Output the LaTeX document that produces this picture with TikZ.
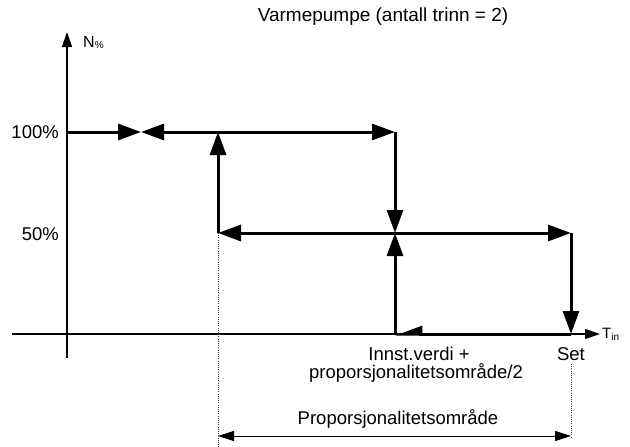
\documentclass[tikz,border=0pt]{standalone}
\usepackage{fontspec}
\setmainfont{Liberation Sans}
\usetikzlibrary{arrows.meta}
\begin{document}
\begin{tikzpicture}[x=1pt,y=-1pt,
  axisline/.style={line width=1.2pt,-{Triangle[length=15pt,width=10pt]}},
  heavy/.style={line width=3pt},
  tipend/.style={-{Triangle[length=23pt,width=16pt]}},
  tipboth/.style={{Triangle[length=23pt,width=16pt]}-{Triangle[length=23pt,width=16pt]}},
  harp/.style={-{Triangle[length=23pt,width=16pt,right]}},
  guide/.style={line width=0.8pt,draw=black!75,dash pattern=on 1pt off 1.2pt},
  dimline/.style={line width=1pt,{Triangle[length=16pt,width=10pt]}-{Triangle[length=16pt,width=10pt]}},
  lbl/.style={inner sep=0pt,font=\fontsize{18.5}{22}\selectfont},
]
\useasboundingbox (0,0) rectangle (630,447);
% coordinates
\coordinate (ya0) at (67,358);
\coordinate (ya1) at (67,32);
\coordinate (xa0) at (12,334);
\coordinate (xa1) at (600,334);
\coordinate (a) at (67,132);
\coordinate (b) at (141,132);
\coordinate (c) at (395,132);
\coordinate (d) at (218,132);
\coordinate (e) at (218,233);
\coordinate (f) at (395,233);
\coordinate (g) at (571,233);
\coordinate (h) at (395,334);
\coordinate (k) at (571,334);
\coordinate (e0) at (218,447);
\coordinate (k1) at (571,364);
\coordinate (k2) at (571,437);
\coordinate (m1) at (218,436);
\coordinate (m2) at (571,436);
% axes
\draw[axisline] (ya0) -- (ya1);
\draw[axisline] (xa0) -- (xa1);
% guides
\draw[guide] (e) -- (e0);
\draw[guide] (k1) -- (k2);
\draw[dimline] (m1) -- (m2);
% hysteresis
\draw[heavy,tipend] (a) -- (b);
\draw[heavy,tipboth] (b) -- (c);
\draw[heavy,tipend] (c) -- (f);
\draw[heavy,tipend] (h) -- (f);
\draw[heavy,tipboth] (e) -- (g);
\draw[heavy,tipend] (e) -- (d);
\draw[heavy,tipend] (g) -- (k);
\draw[heavy,harp] (k) -- (h);
% labels
\node[lbl,font=\fontsize{19}{22}\selectfont] (title) at (383,17) {Varmepumpe (antall trinn = 2)};
\node[inner sep=0pt,anchor=base west,font=\fontsize{16}{18}\selectfont] (nlab) at (83,47) {N{\fontsize{10}{10}\selectfont\raisebox{-1.5pt}{\%}}};
\node[inner sep=0pt,anchor=base west,font=\fontsize{15}{18}\selectfont] (tlab) at (602,338) {T{\fontsize{10}{10}\selectfont\raisebox{-2.5pt}{in}}};
\node[lbl,anchor=base east] (p100) at (59,138) {100\%};
\node[lbl,anchor=base east] (p50) at (59,240) {50\%};
\node[lbl,anchor=base] (inn1) at (419,360) {Innst.verdi +};
\node[lbl,anchor=base] (inn2) at (416,378) {proporsjonalitetsområde/2};
\node[lbl,anchor=base] (set) at (571,360) {Set};
\node[lbl,anchor=base] (prop) at (398,424) {Proporsjonalitetsområde};
\end{tikzpicture}
\end{document}
